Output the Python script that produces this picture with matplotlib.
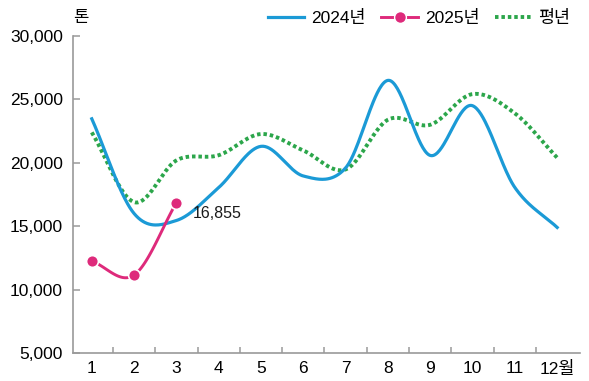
import numpy as np
import matplotlib
matplotlib.use("Agg")
import matplotlib.pyplot as plt
from matplotlib.lines import Line2D

plt.rcParams["font.family"] = ["Liberation Sans", "Noto Sans CJK KR", "DejaVu Sans"]

months = np.arange(1, 13)
month_labels = ["1", "2", "3", "4", "5", "6", "7", "8", "9", "10", "11", "12월"]
y2024 = [23470, 16000, 15450, 18050, 21300, 18960, 19600, 26500, 20580, 24500, 18050, 14900]
y2025 = [12240, 11150, 16855]
normal = [22400, 16900, 20190, 20600, 22270, 20970, 19480, 23400, 23000, 25420, 23900, 20400]
y_ticks = [5000, 10000, 15000, 20000, 25000, 30000]

BLUE = "#1b9ad6"
PINK = "#de2a7b"
GREEN = "#2ca64b"
GREY = "#9a9a9a"
DOTS = (0, (0.9, 0.75))


def smooth(x, y, n=40):
    # Catmull-Rom style hermite curve through the monthly points
    x = np.asarray(x, float)
    y = np.asarray(y, float)
    m = np.zeros_like(y)
    m[1:-1] = (y[2:] - y[:-2]) / (x[2:] - x[:-2])
    m[0] = (y[1] - y[0]) / (x[1] - x[0])
    m[-1] = (y[-1] - y[-2]) / (x[-1] - x[-2])
    xs, ys = [], []
    for i in range(len(x) - 1):
        h = x[i + 1] - x[i]
        t = np.linspace(0, 1, n, endpoint=(i == len(x) - 2))
        h00 = 2 * t**3 - 3 * t**2 + 1
        h10 = t**3 - 2 * t**2 + t
        h01 = -2 * t**3 + 3 * t**2
        h11 = t**3 - t**2
        xs.append(x[i] + t * h)
        ys.append(h00 * y[i] + h10 * h * m[i] + h01 * y[i + 1] + h11 * h * m[i + 1])
    return np.concatenate(xs), np.concatenate(ys)


fig = plt.figure(figsize=(5.89, 3.81), dpi=100)
ax = fig.add_axes([0.1235, 0.0735, 0.862, 0.832])

xs, ys = smooth(months, normal)
ax.plot(xs, ys, color=GREEN, lw=2.8, ls=DOTS, zorder=2)
xs, ys = smooth(months, y2024)
ax.plot(xs, ys, color=BLUE, lw=2.3, zorder=3)
xs, ys = smooth(months[:3], y2025)
ax.plot(xs, ys, color=PINK, lw=2.1, zorder=4)
ax.plot(months[:3], y2025, "o", color=PINK, ms=8.5, mec="white", mew=1.2, zorder=5)
ax.text(months[2] + 0.38, y2025[2] - 250, f"{y2025[2]:,}", fontsize=11.5,
        va="top", ha="left", color="#1a1a1a")

ax.set_xlim(0.55, 12.55)
ax.set_ylim(5000, 30000)
ax.set_yticks(y_ticks)
ax.set_yticklabels([f"{v:,}" for v in y_ticks], fontsize=12.5)
ax.set_xticks(np.arange(1.5, 12, 1))
ax.set_xticklabels([])
ax.set_xticks(months, minor=True)
ax.set_xticklabels(month_labels, minor=True, fontsize=12.5)
ax.tick_params(axis="x", which="minor", length=0, pad=6)
ax.tick_params(axis="x", which="major", length=4, width=1.1, color=GREY, direction="in")
ax.tick_params(axis="y", length=5, width=1.1, color=GREY, direction="in", pad=7)
for side in ["top", "right"]:
    ax.spines[side].set_visible(False)
for side in ["left", "bottom"]:
    ax.spines[side].set_color(GREY)
    ax.spines[side].set_linewidth(1.2)

fig.text(0.137, 0.955, "톤", fontsize=12, ha="center", va="center")

handles = [
    Line2D([], [], color=BLUE, lw=2.3),
    Line2D([], [], color=PINK, lw=2.1, marker="o", ms=8.5, mec="white", mew=1),
    Line2D([], [], color=GREEN, lw=2.8, ls=DOTS),
]
fig.legend(handles, ["2024년", "2025년", "평년"], loc="upper right",
           bbox_to_anchor=(0.995, 1.015), ncol=3, frameon=False, fontsize=12.5,
           handlelength=2.1, handletextpad=0.4, columnspacing=0.9)

fig.savefig("out.png", dpi=100)
